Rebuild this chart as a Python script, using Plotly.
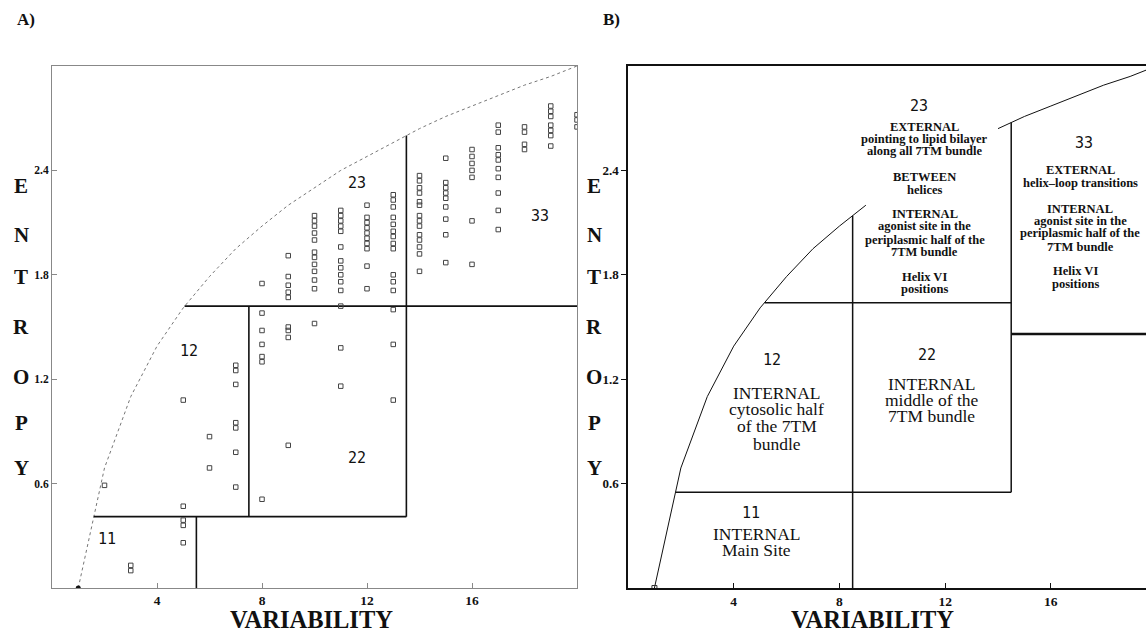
import plotly.graph_objects as go

# ---------------- data ----------------
# maximum-entropy curve (entropy = ln(variability)) read at integer variability
curve_x = [1, 2, 3, 4, 5, 6, 7, 8, 9, 10, 11, 12, 13, 14, 15, 16, 17, 18, 19, 20]
curve_y = [0.00, 0.69, 1.10, 1.39, 1.61, 1.79, 1.95, 2.08, 2.20, 2.30,
           2.40, 2.48, 2.56, 2.64, 2.71, 2.77, 2.83, 2.89, 2.94, 3.00]

# panel A: residue positions (variability, entropy)
pts_var = ([2] + [3, 3] + [5] * 5 + [6] * 2 + [7] * 7 + [8] * 7 + [9] * 9 + [10] * 12
           + [11] * 14 + [12] * 10 + [13] * 15 + [14] * 14 + [15] * 9 + [16] * 7
           + [17] * 10 + [18] * 4 + [19] * 7 + [20] * 3)
pts_ent = ([0.59]
           + [0.10, 0.13]
           + [1.08, 0.47, 0.39, 0.36, 0.26]
           + [0.87, 0.69]
           + [1.28, 1.25, 1.17, 0.95, 0.92, 0.78, 0.58]
           + [1.75, 1.58, 1.48, 1.40, 1.33, 1.30, 0.51]
           + [1.91, 1.79, 1.74, 1.70, 1.67, 1.50, 1.48, 1.44, 0.82]
           + [2.14, 2.11, 2.08, 2.04, 2.00, 1.93, 1.90, 1.86, 1.82, 1.77, 1.72, 1.52]
           + [2.17, 2.14, 2.11, 2.08, 2.05, 1.96, 1.88, 1.84, 1.80, 1.76, 1.71, 1.62, 1.38, 1.16]
           + [2.20, 2.13, 2.10, 2.07, 2.04, 2.01, 1.98, 1.95, 1.85, 1.72]
           + [2.26, 2.23, 2.19, 2.13, 2.09, 2.05, 2.02, 1.98, 1.95, 1.80, 1.76, 1.71, 1.60, 1.40, 1.08]
           + [2.37, 2.34, 2.30, 2.27, 2.22, 2.20, 2.14, 2.11, 2.08, 2.03, 2.00, 1.96, 1.92, 1.82]
           + [2.47, 2.33, 2.30, 2.27, 2.24, 2.19, 2.12, 2.03, 1.87]
           + [2.52, 2.48, 2.44, 2.40, 2.36, 2.11, 1.86]
           + [2.66, 2.62, 2.53, 2.49, 2.46, 2.41, 2.36, 2.27, 2.17, 2.06]
           + [2.65, 2.62, 2.55, 2.52]
           + [2.77, 2.74, 2.71, 2.66, 2.63, 2.60, 2.54]
           + [2.72, 2.69, 2.65])

# zone boundaries, panel A: horizontal (y, x_from, x_to), vertical (x, y_from, y_to)
a_hlines = [(0.41, 1.59, 13.5), (1.62, 5.05, 20.0)]
a_vlines = [(5.5, 0.0, 0.41), (7.5, 0.41, 1.62), (13.5, 0.41, 2.60)]
# zone boundaries, panel B
b_hlines = [(0.55, 1.80, 14.5), (1.64, 5.17, 14.5)]
b_hline_thick = [(1.46, 14.5, 19.6)]
b_vlines = [(8.5, 0.0, 2.14), (14.5, 0.55, 2.675)]

zone_names = ["11", "12", "22", "23", "33"]

b_text_23 = ["EXTERNAL", "pointing to lipid bilayer", "along all 7TM bundle",
             "BETWEEN", "helices",
             "INTERNAL", "agonist site in the", "periplasmic half of the", "7TM bundle",
             "Helix VI", "positions"]
b_text_33 = ["EXTERNAL", "helix\u2013loop transitions",
             "INTERNAL", "agonist site in the", "periplasmic half of the", "7TM bundle",
             "Helix VI", "positions"]
b_text_12 = ["INTERNAL", "cytosolic half", "of the 7TM", "bundle"]
b_text_22 = ["INTERNAL", "middle of the", "7TM bundle"]
b_text_11 = ["INTERNAL", "Main Site"]

x_ticks = [4, 8, 12, 16]
y_ticks = [0.6, 1.2, 1.8, 2.4]
entropy_letters = list("ENTROPY")

# ---------------- positions / styles ----------------
W, H = 1146, 632
YD = [1 - 588 / H, 1 - 66 / H]
XA = [52 / W, 577 / W]
XB = [628 / W, 1.0]
SERIF = "Liberation Serif"
MONO = "DejaVu Sans Mono"

fig = go.Figure()


def seg_trace(hl, vl, xa, ya, color, width, dash="solid"):
    xs, ys = [], []
    for (y, x0, x1) in hl:
        xs += [x0, x1, None]
        ys += [y, y, None]
    for (x, y0, y1) in vl:
        xs += [x, x, None]
        ys += [y0, y1, None]
    return go.Scatter(x=xs, y=ys, mode="lines", xaxis=xa, yaxis=ya,
                      line=dict(color=color, width=width, dash=dash),
                      hoverinfo="skip", showlegend=False)


# ---- panel A ----
fig.add_trace(go.Scatter(x=curve_x, y=curve_y, mode="lines", xaxis="x", yaxis="y",
                         line=dict(color="#777", width=1, dash="dot"), showlegend=False))
fig.add_trace(seg_trace(a_hlines, a_vlines, "x", "y", "#111", 1.6))
fig.add_trace(go.Scatter(x=pts_var, y=pts_ent, mode="markers", xaxis="x", yaxis="y",
                         marker=dict(symbol="square-open", size=4.5, color="#444",
                                     line=dict(width=1)), showlegend=False))
fig.add_trace(go.Scatter(x=[curve_x[0]], y=[curve_y[0]], mode="markers", xaxis="x", yaxis="y",
                         marker=dict(symbol="circle", size=5, color="#111"), showlegend=False))

# ---- panel B ----
seg1 = [i for i, v in enumerate(curve_x) if v <= 9]
seg2 = [i for i, v in enumerate(curve_x) if v >= 14]
for seg in (seg1, seg2):
    fig.add_trace(go.Scatter(x=[curve_x[i] for i in seg], y=[curve_y[i] for i in seg],
                             mode="lines", xaxis="x2", yaxis="y2",
                             line=dict(color="#111", width=1), showlegend=False))
fig.add_trace(seg_trace(b_hlines, b_vlines, "x2", "y2", "#111", 1.5))
fig.add_trace(seg_trace(b_hline_thick, [], "x2", "y2", "#111", 2.5))
fig.add_trace(go.Scatter(x=[curve_x[0]], y=[curve_y[0]], mode="markers", xaxis="x2", yaxis="y2",
                         marker=dict(symbol="square-open", size=5, color="#333"), showlegend=False))

ann = []


def txt(x, y, s, xref, yref, size, family=SERIF, bold=False, color="#111"):
    ann.append(dict(x=x, y=y, xref=xref, yref=yref, text=(f"<b>{s}</b>" if bold else s),
                    showarrow=False, font=dict(family=family, size=size, color=color),
                    xanchor="center", yanchor="middle"))


# zone numbers panel A
a_num_pos = [(2.09, 0.28), (5.21, 1.36), (11.6, 0.75), (11.6, 2.33), (18.6, 2.14)]
for name, (x, y) in zip(zone_names, a_num_pos):
    txt(x, y, name, "x", "y", 15, MONO)

# zone numbers panel B
b_num_pos = [(4.67, 0.43), (5.46, 1.31), (11.33, 1.34), (11.0, 2.77), (17.25, 2.56)]
for name, (x, y) in zip(zone_names, b_num_pos):
    txt(x, y, name, "x2", "y2", 15, MONO)

# descriptive text panel B
b23_y = [2.65, 2.58, 2.51, 2.36, 2.29, 2.15, 2.08, 2.00, 1.93, 1.79, 1.72]
for s, y in zip(b_text_23, b23_y):
    txt(11.22, y, s, "x2", "y2", 12.5, bold=True)
b33_y = [2.40, 2.33, 2.18, 2.11, 2.04, 1.96, 1.82, 1.75]
b33_x = [17.12, 17.12, 17.12, 17.12, 17.12, 17.12, 16.95, 16.95]
for s, x, y in zip(b_text_33, b33_x, b33_y):
    txt(x, y, s, "x2", "y2", 12.5, bold=True)
for s, y in zip(b_text_12, [1.12, 1.03, 0.93, 0.83]):
    txt(5.62, y, s, "x2", "y2", 17.5)
for s, y in zip(b_text_22, [1.17, 1.08, 0.99]):
    txt(11.5, y, s, "x2", "y2", 17.5)
for s, y in zip(b_text_11, [0.31, 0.22]):
    txt(4.85, y, s, "x2", "y2", 17.5)

# ENTROPY letters
letter_y = [2.31, 2.03, 1.79, 1.50, 1.21, 0.95, 0.69]
for ch, y in zip(entropy_letters, letter_y):
    txt(21 / W, y, ch, "paper", "y", 21, bold=True)
    txt(594 / W, y, ch, "paper", "y2", 21, bold=True)

# axis titles and panel letters
txt(311 / W, 1 - 619 / H, "VARIABILITY", "paper", "paper", 24.5, bold=True)
txt(872 / W, 1 - 619 / H, "VARIABILITY", "paper", "paper", 24.5, bold=True)
txt(26 / W, 1 - 19 / H, "A)", "paper", "paper", 17, bold=True)
txt(611 / W, 1 - 19 / H, "B)", "paper", "paper", 17, bold=True)

tick_font = dict(family=SERIF, size=13.5, color="#111")
xt = [f"<b>{v}</b>" for v in x_ticks]
yt = [f"<b>{v}</b>" for v in y_ticks]

fig.update_layout(
    width=W, height=H, margin=dict(l=0, r=0, t=0, b=0),
    paper_bgcolor="white", plot_bgcolor="white", showlegend=False,
    annotations=ann,
    xaxis=dict(domain=XA, range=[0, 20], anchor="y", showgrid=False, zeroline=False,
               showline=True, linecolor="#888", linewidth=1, mirror=True,
               ticks="inside", ticklen=5, tickcolor="#888",
               tickvals=x_ticks, ticktext=xt, tickfont=tick_font),
    yaxis=dict(domain=YD, range=[0, 3.0], anchor="x", showgrid=False, zeroline=False,
               showline=True, linecolor="#888", linewidth=1, mirror=True,
               ticks="inside", ticklen=5, tickcolor="#888",
               tickvals=y_ticks, ticktext=yt, tickfont=dict(family=SERIF, size=11.5, color="#111")),
    xaxis2=dict(domain=XB, range=[0, 19.6], anchor="y2", showgrid=False, zeroline=False,
                showline=True, linecolor="#111", linewidth=1.5, mirror=True,
                ticks="inside", ticklen=5, tickcolor="#111",
                tickvals=x_ticks, ticktext=xt, tickfont=tick_font),
    yaxis2=dict(domain=YD, range=[0, 3.0], anchor="x2", showgrid=False, zeroline=False,
                showline=True, linecolor="#111", linewidth=1.5,
                ticks="outside", ticklen=5, tickcolor="#111",
                tickvals=y_ticks, ticktext=yt, tickfont=dict(family=SERIF, size=13, color="#111")),
)

fig.write_html("out.html", config={"displayModeBar": False},
               post_script="document.body.style.margin='0';document.body.style.overflow='hidden';")
